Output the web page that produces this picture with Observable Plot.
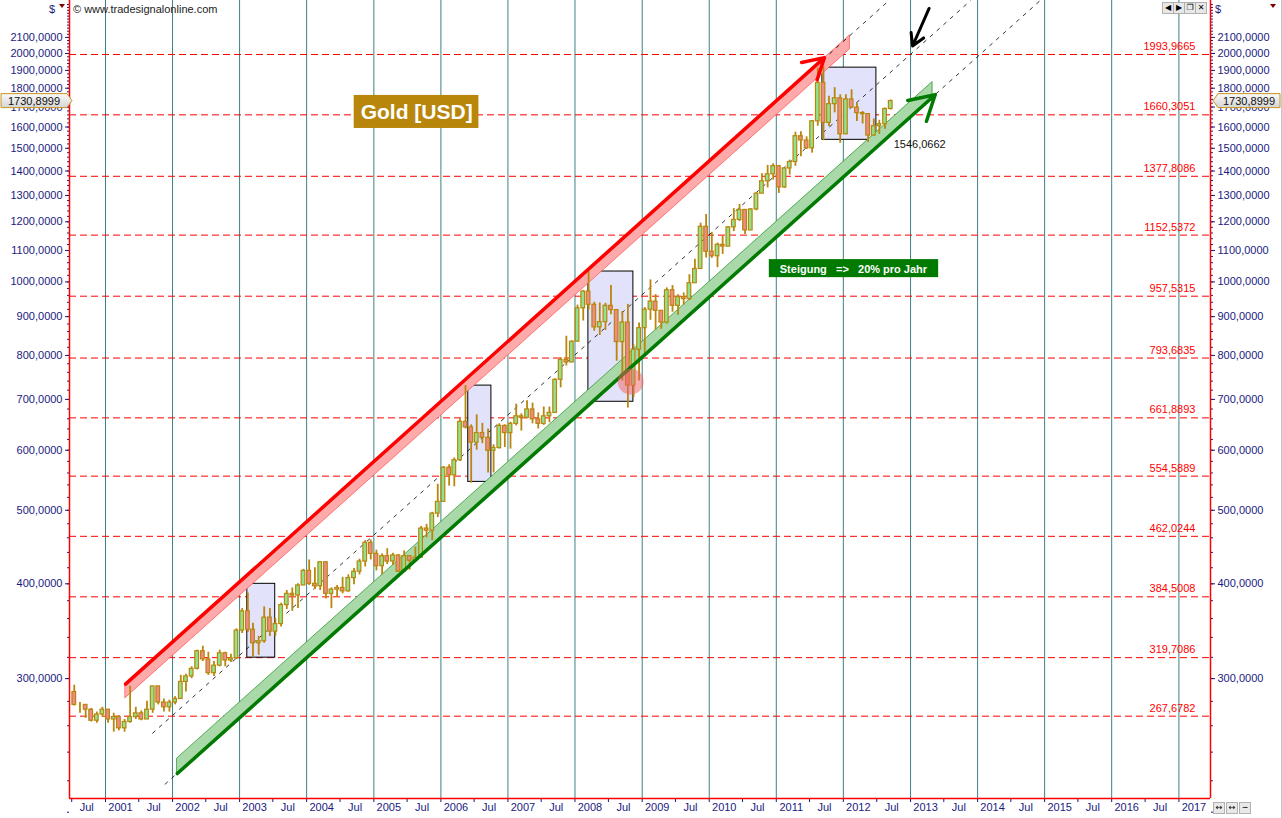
<!DOCTYPE html>
<html>
<head>
<meta charset="utf-8">
<script src="https://cdn.jsdelivr.net/npm/d3@7"></script>
<script src="https://cdn.jsdelivr.net/npm/@observablehq/plot@0.6"></script>
<style>
  body { margin: 0; background: #fff; font-family: "Liberation Sans", Arial, sans-serif; }
  #chart { position: relative; width: 1282px; height: 818px; overflow: hidden; }
  .ov { position: absolute; font-size: 11px; color: #1a1a80; white-space: nowrap; }
  .btn { position: absolute; width: 10px; height: 10px; border: 1px solid #b0b0b0; background: #e8e8e8; font-family: "DejaVu Sans", sans-serif; font-size: 8px; line-height: 10px; text-align: center; color: #000; }
</style>
</head>
<body>
<div id="chart"></div>
<script>
// monthly candles, Jul 2000 .. Sep 2012 (open = previous close)
const firstOpen = 288;
const closes = [
  277, 277, 273, 264, 269, 273,
  265, 267, 258, 263, 267, 270, 265, 273, 293, 279, 275, 279,
  282, 297, 302, 309, 326, 318, 305, 312, 324, 317, 319, 347,
  368, 348, 334, 336, 361, 346, 354, 375, 388, 386, 398, 416,
  400, 397, 427, 388, 393, 395, 391, 407, 415, 428, 453, 438,
  422, 435, 428, 436, 415, 435, 429, 433, 473, 470, 495, 513,
  569, 556, 582, 654, 643, 614, 632, 623, 599, 604, 646, 632,
  650, 665, 662, 679, 659, 650, 665, 672, 743, 789, 783, 834,
  923, 971, 933, 871, 885, 930, 918, 833, 884, 730, 814, 869,
  919, 942, 916, 884, 975, 930, 955, 949, 996, 1040, 1182, 1096,
  1081, 1119, 1113, 1180, 1207, 1244, 1169, 1246, 1307, 1357, 1386, 1421,
  1332, 1411, 1439, 1556, 1536, 1500, 1628, 1829, 1620, 1715, 1746, 1565,
  1740, 1697, 1669, 1664, 1559, 1604, 1614, 1690, 1731
];
const highs = [
  294, 279, 276, 274, 271, 275,
  272, 270, 268, 265, 293, 275, 272, 280, 293, 293, 282, 281,
  284, 303, 304, 311, 327, 331, 325, 316, 327, 325, 323, 349,
  371, 389, 355, 341, 373, 371, 360, 377, 392, 395, 400, 418,
  430, 420, 428, 427, 395, 398, 408, 411, 419, 431, 456, 457,
  443, 438, 445, 439, 437, 442, 432, 447, 476, 479, 497, 541,
  571, 574, 586, 660, 730, 648, 668, 651, 640, 610, 650, 648,
  653, 690, 670, 697, 692, 672, 684, 684, 745, 795, 848, 836,
  932, 974, 1032, 940, 938, 937, 989, 918, 914, 934, 826, 883,
  925, 1006, 962, 915, 982, 989, 962, 967, 1022, 1071, 1195, 1227,
  1162, 1125, 1148, 1183, 1249, 1265, 1244, 1249, 1311, 1388, 1424, 1431,
  1424, 1412, 1447, 1575, 1577, 1553, 1632, 1913, 1921, 1756, 1803, 1764,
  1764, 1791, 1718, 1677, 1667, 1640, 1633, 1695, 1737
];
const lows = [
  276, 270, 266, 263, 262, 267,
  262, 255, 256, 255, 262, 265, 264, 265, 270, 277, 271, 271,
  277, 282, 288, 300, 308, 316, 303, 302, 311, 311, 315, 318,
  344, 345, 320, 322, 334, 341, 341, 351, 370, 368, 371, 398,
  398, 393, 392, 382, 371, 384, 388, 390, 399, 411, 421, 430,
  416, 411, 424, 423, 414, 414, 417, 428, 433, 460, 456, 489,
  513, 538, 537, 580, 640, 543, 600, 612, 560, 560, 602, 605,
  602, 646, 636, 660, 650, 640, 647, 652, 671, 725, 775, 783,
  834, 888, 918, 861, 850, 863, 905, 786, 740, 682, 704, 740,
  801, 890, 864, 866, 880, 912, 904, 932, 945, 1000, 1042, 1075,
  1074, 1044, 1087, 1113, 1165, 1201, 1155, 1175, 1241, 1315, 1330, 1362,
  1308, 1328, 1383, 1420, 1462, 1495, 1478, 1604, 1535, 1602, 1670, 1523,
  1565, 1692, 1627, 1615, 1527, 1556, 1565, 1589, 1685
];
const lastPrice = 1730.8999;

// horizontal support / resistance levels
const levels = [1993.9665, 1660.3051, 1377.8086, 1152.5372, 957.5315, 793.6835,
                661.8893, 554.5889, 462.0244, 384.5008, 319.7086, 267.6782];

// trend channel (20% p.a.) end points
const redLine   = [{x1: "2001-04-20", y1: 295,   x2: "2011-09-20", y2: 1975}];
const redBand   = [{date: "2001-04-20", lo: 282.7, hi: 295}, {date: "2012-02-06", lo: 2025, hi: 2113}];
const greenLine = [{x1: "2002-01-27", y1: 224.9, x2: "2013-05-15", y2: 1765}];
const greenBand = [{date: "2002-01-27", lo: 224.9, hi: 235.5}, {date: "2013-05-01", lo: 1752, hi: 1834}];
const dashLines = [
  {x1: "2001-04-20", y1: 295,   x2: "2012-09-06", y2: 2349},
  {x1: "2001-09-13", y1: 254,   x2: "2013-11-24", y2: 2349},
  {x1: "2001-11-20", y1: 217.6, x2: "2014-12-08", y2: 2349}
];
const boxes = [
  {x1: "2003-02-12", x2: "2003-07-14", y1: 319.7, y2: 400},
  {x1: "2006-05-30", x2: "2006-10-03", y1: 545,   y2: 730},
  {x1: "2008-03-14", x2: "2008-11-14", y1: 695,   y2: 1032},
  {x1: "2011-09-09", x2: "2012-06-29", y1: 1539,  y2: 1916}
];
const circle = [{date: "2008-10-30", value: 739}];
const blackArrow = [{x1: "2013-04-12", y1: 2293, x2: "2013-01-12", y2: 2046}];
const goldLabel = [{x1: "2004-09-16", x2: "2006-07-27", y1: 1593, y2: 1761, xc: "2005-08-22", yc: 1673, text: "Gold [USD]"}];
const slopeLabel = [{x1: "2010-11-24", x2: "2013-06-03", y1: 1013, y2: 1070, xc: "2012-02-25", yc: 1040,
                     text: "Steigung\u00a0\u00a0\u00a0=>\u00a0\u00a0\u00a020% pro Jahr"}];
const lowNote = [{date: "2012-10-01", value: 1517, text: "1546,0662"}];

const yTicks = [300, 400, 500, 600, 700, 800, 900, 1000, 1100, 1200, 1300, 1400, 1500,
                1600, 1700, 1800, 1900, 2000, 2100];
const yMinor = d3.range(200, 2340, 20);
const yearLines = d3.range(2001, 2018).map(y => new Date(y, 0, 1));
const xTicks = d3.range(2000.5, 2017.01, 0.5).map(t => new Date(Math.floor(t), t % 1 ? 6 : 0, 1));

const D = s => new Date(s);
const fmt = v => v.toFixed(4).replace(".", ",");

const candles = closes.map((c, i) => {
  const date = new Date(2000, 6 + i, 15);
  const open = i === 0 ? firstOpen : closes[i - 1];
  return {date, open, close: c, high: highs[i], low: lows[i]};
});

const navy = "#1a1a80";
const gold = "#b8860b";

const chart = Plot.plot({
  width: 1282,
  height: 818,
  marginLeft: 69,
  marginRight: 72,
  marginTop: 0,
  marginBottom: 20,
  style: {fontFamily: "Liberation Sans, Arial, sans-serif", fontSize: "11px", background: "white", overflow: "visible"},
  x: {type: "time", domain: [new Date(2000, 5, 19), new Date(2017, 5, 22)]},
  y: {type: "log", domain: [208.5, 2349]},
  marks: [
    Plot.ruleX(yearLines, {stroke: "#3f8080", strokeWidth: 1}),
    Plot.ruleY(levels, {stroke: "#ff0000", strokeWidth: 1, strokeDasharray: "7,4"}),
    Plot.text(levels, {x: () => new Date(2017, 3, 1), y: d => d, text: fmt, textAnchor: "end", dy: -8, fill: "#ff0000", fontSize: 11}),
    Plot.rect(boxes, {x1: d => D(d.x1), x2: d => D(d.x2), y1: "y1", y2: "y2", fill: "#e2e2fa", stroke: "black", strokeWidth: 1}),
    Plot.areaY(redBand, {x: d => D(d.date), y1: "lo", y2: "hi", fill: "#ffaaaa", stroke: "#ff5050", strokeWidth: 0.7}),
    Plot.areaY(greenBand, {x: d => D(d.date), y1: "lo", y2: "hi", fill: "#a9d8a9", stroke: "#1f8f1f", strokeWidth: 0.7}),
    Plot.link(dashLines, {x1: d => D(d.x1), y1: "y1", x2: d => D(d.x2), y2: "y2", stroke: "black", strokeWidth: 0.8, strokeDasharray: "4,5"}),
    Plot.ruleX(candles, {x: "date", y1: "low", y2: "high", stroke: gold, strokeWidth: 1.8}),
    Plot.rect(candles, {
      x1: d => d3.timeDay.offset(d.date, -10), x2: d => d3.timeDay.offset(d.date, 10),
      y1: "open", y2: "close",
      fill: d => d.close >= d.open ? "#8fe38f" : "#f08a8a", stroke: gold, strokeWidth: 1.2
    }),
    Plot.arrow(redLine, {x1: d => D(d.x1), y1: "y1", x2: d => D(d.x2), y2: "y2", stroke: "#ff0000", strokeWidth: 3.5, headLength: 10}),
    Plot.arrow(greenLine, {x1: d => D(d.x1), y1: "y1", x2: d => D(d.x2), y2: "y2", stroke: "#007a00", strokeWidth: 3.5, headLength: 12}),
    Plot.dot(circle, {x: d => D(d.date), y: "value", r: 13, fill: "#f06060", fillOpacity: 0.5, stroke: "none"}),
    Plot.arrow(blackArrow, {x1: d => D(d.x1), y1: "y1", x2: d => D(d.x2), y2: "y2", stroke: "black", strokeWidth: 3, headLength: 12}),
    Plot.text(lowNote, {x: d => D(d.date), y: "value", text: "text", textAnchor: "start", fill: "#111", fontSize: 11}),
    Plot.rect(goldLabel, {x1: d => D(d.x1), x2: d => D(d.x2), y1: "y1", y2: "y2", fill: gold}),
    Plot.text(goldLabel, {x: d => D(d.xc), y: "yc", text: "text", fill: "white", fontSize: 21, fontWeight: "bold"}),
    Plot.rect(slopeLabel, {x1: d => D(d.x1), x2: d => D(d.x2), y1: "y1", y2: "y2", fill: "#007a00"}),
    Plot.text(slopeLabel, {x: d => D(d.xc), y: "yc", text: "text", fill: "white", fontSize: 11, fontWeight: "bold"}),
    // axes
    Plot.axisY(yMinor, {anchor: "left", tickSize: 2, tickFormat: () => "", color: navy, label: null}),
    Plot.axisY(yMinor, {anchor: "right", tickSize: 2, tickFormat: () => "", color: navy, label: null}),
    Plot.axisY(yTicks, {anchor: "left", tickSize: 4, tickPadding: 3, tickFormat: fmt, color: navy, label: null}),
    Plot.axisY(yTicks, {anchor: "right", tickSize: 4, tickPadding: 3, tickFormat: fmt, color: navy, label: null}),
    Plot.axisX(xTicks, {anchor: "bottom", tickSize: 4, tickFormat: () => "", color: navy, label: null}),
    Plot.axisX(xTicks, {anchor: "bottom", tickSize: 0, tickPadding: 5, dx: 15, color: navy, label: null,
      tickFormat: d => d.getMonth() === 6 ? "Jul" : String(d.getFullYear())}),
    Plot.ruleX([new Date(2000, 5, 19), new Date(2017, 5, 22)], {stroke: "#ff0000", strokeWidth: 1.5}),
    Plot.ruleY([208.5], {stroke: "#ff0000", strokeWidth: 1.5})
  ]
});

const box = document.getElementById("chart");
box.appendChild(chart);

// overlays outside the plot frame
const ys = chart.scale("y");
const py = ys.apply(lastPrice);
const tagSvg = `
<svg width="1282" height="818" style="position:absolute;left:0;top:0;pointer-events:none">
  <defs><linearGradient id="tg" x1="0" y1="0" x2="0" y2="1">
    <stop offset="0" stop-color="#fafafa"/><stop offset="1" stop-color="#d4d4d4"/></linearGradient></defs>
  <polygon points="1,${py - 7} 67,${py - 7} 72,${py} 67,${py + 7} 1,${py + 7}" fill="url(#tg)" stroke="#c8961e"/>
  <text x="34" y="${py + 4}" text-anchor="middle" font-size="11" fill="#111">${fmt(lastPrice)}</text>
  <polygon points="1213,${py} 1218,${py - 7} 1280,${py - 7} 1280,${py + 7} 1218,${py + 7}" fill="url(#tg)" stroke="#c8961e"/>
  <text x="1249" y="${py + 4}" text-anchor="middle" font-size="11" fill="#111">${fmt(lastPrice)}</text>
  <line x1="1281.5" y1="0" x2="1281.5" y2="818" stroke="#c8c8c8"/>
  <polygon points="59,4 65,4 62,8" fill="#800000"/>
  <polygon points="1270,4 1276,4 1273,8" fill="#800000"/>
</svg>`;
box.insertAdjacentHTML("beforeend", tagSvg);

const ov = (html, left, top, cls = "ov") => {
  const el = document.createElement("div");
  el.className = cls;
  el.style.left = left + "px";
  el.style.top = top + "px";
  el.innerHTML = html;
  box.appendChild(el);
};
ov("$", 49, 3);
ov("$", 1215, 3);
ov("© www.tradesignalonline.com", 73, 3, "ov");
box.lastChild.style.color = "#222";
["&#9664;", "&#9654;", "&#10064;", "&#10005;"].forEach((s, i) => ov(s, 1162 + i * 11, 2, "btn"));
["&#8596;", "&#8596;", "&#8764;"].forEach((s, i) => ov(s, 1213 + i * 13, 802, "btn"));
</script>
</body>
</html>
